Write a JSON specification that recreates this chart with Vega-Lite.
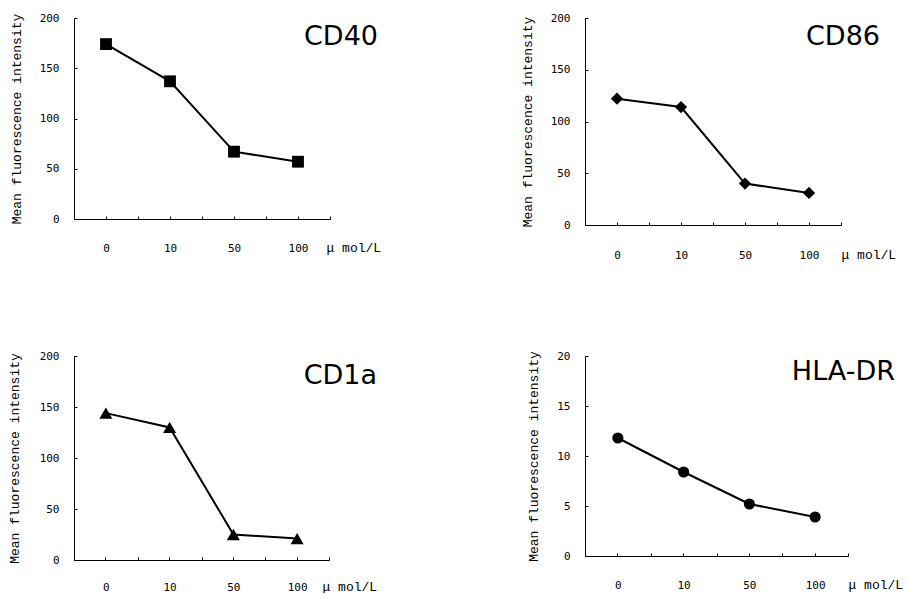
{
  "$schema": "https://vega.github.io/schema/vega-lite/v6.json",
  "padding": {"left": 8, "top": 12, "right": 0, "bottom": 0},
  "background": "white",
  "spacing": 89,
  "vconcat": [
    {
      "spacing": 140,
      "hconcat": [
        {
          "width": 256, "height": 201,
          "title": {"text": "CD40", "dx": 48, "dy": 4},
          "data": {"values": [{"dose": "0", "mfi": 174}, {"dose": "10", "mfi": 137}, {"dose": "50", "mfi": 67}, {"dose": "100", "mfi": 57}]},
          "layer": [
            {"mark": {"type": "line", "color": "#000", "strokeWidth": 2},
             "encoding": {
               "x": {"field": "dose", "type": "ordinal", "sort": ["0", "10", "50", "100"], "scale": {"paddingInner": 0, "paddingOuter": 0},
                     "axis": {"orient": "bottom", "tickBand": "extent", "tickSize": -3, "labelPadding": 35, "labelBaseline": "alphabetic", "labelAngle": 0, "labelFontSize": 11, "title": "μ mol/L", "titleX": 252, "titleY": 32, "titleAlign": "left", "titleBaseline": "alphabetic", "titleFontSize": 13}},
               "y": {"field": "mfi", "type": "quantitative", "scale": {"domain": [0, 200], "nice": false},
                     "axis": {"values": [0, 50, 100, 150, 200], "tickSize": -3, "labelPadding": 18, "labelFontSize": 11, "title": "Mean fluorescence intensity", "titleFontSize": 13, "titlePadding": 16}}}},
            {"mark": {"type": "point", "shape": "square", "filled": true, "color": "#000", "size": 140, "opacity": 1},
             "encoding": {
               "x": {"field": "dose", "type": "ordinal", "sort": ["0", "10", "50", "100"], "axis": {"orient": "bottom", "tickSize": -3, "labels": false, "domain": false, "title": null}},
               "y": {"field": "mfi", "type": "quantitative"}}}
          ],
          "resolve": {"axis": {"x": "independent"}}
        },
        {
          "width": 256, "height": 207,
          "title": {"text": "CD86", "dx": 39, "dy": 4},
          "data": {"values": [{"dose": "0", "mfi": 122}, {"dose": "10", "mfi": 114}, {"dose": "50", "mfi": 40}, {"dose": "100", "mfi": 31}]},
          "layer": [
            {"mark": {"type": "line", "color": "#000", "strokeWidth": 2},
             "encoding": {
               "x": {"field": "dose", "type": "ordinal", "sort": ["0", "10", "50", "100"], "scale": {"paddingInner": 0, "paddingOuter": 0},
                     "axis": {"orient": "bottom", "tickBand": "extent", "tickSize": -3, "labelPadding": 36, "labelBaseline": "alphabetic", "labelAngle": 0, "labelFontSize": 11, "title": "μ mol/L", "titleX": 256, "titleY": 33, "titleAlign": "left", "titleBaseline": "alphabetic", "titleFontSize": 13}},
               "y": {"field": "mfi", "type": "quantitative", "scale": {"domain": [0, 200], "nice": false},
                     "axis": {"values": [0, 50, 100, 150, 200], "tickSize": -3, "labelPadding": 18, "labelFontSize": 11, "title": "Mean fluorescence intensity", "titleFontSize": 13, "titlePadding": 16}}}},
            {"mark": {"type": "point", "shape": "diamond", "filled": true, "color": "#000", "size": 150, "opacity": 1},
             "encoding": {
               "x": {"field": "dose", "type": "ordinal", "sort": ["0", "10", "50", "100"], "axis": {"orient": "bottom", "tickSize": -3, "labels": false, "domain": false, "title": null}},
               "y": {"field": "mfi", "type": "quantitative"}}}
          ],
          "resolve": {"axis": {"x": "independent"}}
        }
      ]
    },
    {
      "spacing": 150,
      "hconcat": [
        {
          "width": 255, "height": 204,
          "title": {"text": "CD1a", "dx": 48, "dy": 5},
          "data": {"values": [{"dose": "0", "mfi": 144}, {"dose": "10", "mfi": 130}, {"dose": "50", "mfi": 25}, {"dose": "100", "mfi": 21}]},
          "layer": [
            {"mark": {"type": "line", "color": "#000", "strokeWidth": 2},
             "encoding": {
               "x": {"field": "dose", "type": "ordinal", "sort": ["0", "10", "50", "100"], "scale": {"paddingInner": 0, "paddingOuter": 0},
                     "axis": {"orient": "bottom", "tickBand": "extent", "tickSize": -3, "labelPadding": 33, "labelBaseline": "alphabetic", "labelAngle": 0, "labelFontSize": 11, "title": "μ mol/L", "titleX": 248, "titleY": 30, "titleAlign": "left", "titleBaseline": "alphabetic", "titleFontSize": 13}},
               "y": {"field": "mfi", "type": "quantitative", "scale": {"domain": [0, 200], "nice": false},
                     "axis": {"values": [0, 50, 100, 150, 200], "tickSize": -3, "labelPadding": 18, "labelFontSize": 11, "title": "Mean fluorescence intensity", "titleFontSize": 13, "titlePadding": 18}}}},
            {"mark": {"type": "point", "shape": "triangle-up", "filled": true, "color": "#000", "size": 170, "opacity": 1},
             "encoding": {
               "x": {"field": "dose", "type": "ordinal", "sort": ["0", "10", "50", "100"], "axis": {"orient": "bottom", "tickSize": -3, "labels": false, "domain": false, "title": null}},
               "y": {"field": "mfi", "type": "quantitative"}}}
          ],
          "resolve": {"axis": {"x": "independent"}}
        },
        {
          "width": 263, "height": 200,
          "title": {"text": "HLA-DR", "dx": 47, "dy": 1},
          "data": {"values": [{"dose": "0", "mfi": 11.8}, {"dose": "10", "mfi": 8.4}, {"dose": "50", "mfi": 5.2}, {"dose": "100", "mfi": 3.9}]},
          "layer": [
            {"mark": {"type": "line", "color": "#000", "strokeWidth": 2},
             "encoding": {
               "x": {"field": "dose", "type": "ordinal", "sort": ["0", "10", "50", "100"], "scale": {"paddingInner": 0, "paddingOuter": 0},
                     "axis": {"orient": "bottom", "tickBand": "extent", "tickSize": -3, "labelPadding": 35, "labelBaseline": "alphabetic", "labelAngle": 0, "labelFontSize": 11, "title": "μ mol/L", "titleX": 263, "titleY": 32, "titleAlign": "left", "titleBaseline": "alphabetic", "titleFontSize": 13}},
               "y": {"field": "mfi", "type": "quantitative", "scale": {"domain": [0, 20], "nice": false},
                     "axis": {"values": [0, 5, 10, 15, 20], "tickSize": -3, "labelPadding": 18, "labelFontSize": 11, "title": "Mean fluorescence intensity", "titleFontSize": 13, "titlePadding": 16}}}},
            {"mark": {"type": "point", "shape": "circle", "filled": true, "color": "#000", "size": 125, "opacity": 1},
             "encoding": {
               "x": {"field": "dose", "type": "ordinal", "sort": ["0", "10", "50", "100"], "axis": {"orient": "bottom", "tickSize": -3, "labels": false, "domain": false, "title": null}},
               "y": {"field": "mfi", "type": "quantitative"}}}
          ],
          "resolve": {"axis": {"x": "independent"}}
        }
      ]
    }
  ],
  "config": {
    "view": {"stroke": null},
    "axis": {"domainColor": "#000", "tickColor": "#000", "labelColor": "#000", "titleColor": "#000", "labelFont": "DejaVu Sans Mono", "titleFont": "Liberation Mono", "titleFontWeight": "normal", "grid": false},
    "title": {"font": "DejaVu Sans", "fontSize": 27, "fontWeight": "normal", "color": "#000", "anchor": "end", "frame": "group", "baseline": "top", "offset": -35}
  }
}
